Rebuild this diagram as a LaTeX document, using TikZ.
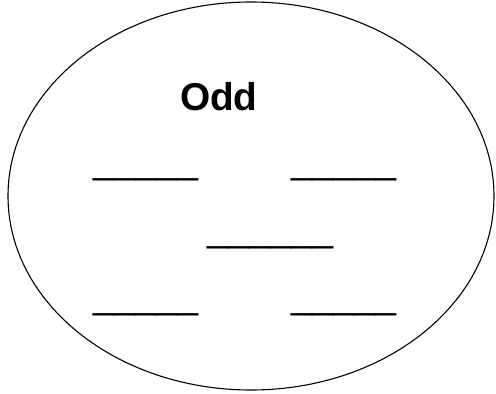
\documentclass[tikz,border=0pt]{standalone}
\usepackage{fontspec}
\setmainfont{Liberation Sans}
\begin{document}
\begin{tikzpicture}[x=1pt,y=-1pt,
  blank/.style={inner sep=0pt,outer sep=0pt,anchor=base west,font=\fontsize{37.8}{40}\selectfont},
  title/.style={inner sep=0pt,outer sep=0pt,anchor=base west,font=\fontsize{38.8}{42}\selectfont\bfseries}]
\useasboundingbox (0,0) rectangle (496,394);
\draw[line width=1.1pt] (251,196) ellipse [x radius=243, y radius=194];
\node[title] (odd) at (180,110.5) {Odd};
\node[blank] (b1) at (93,173) {\_\_\_\_\_};
\node[blank] (b2) at (291,173) {\_\_\_\_\_};
\node[blank] (b3) at (207,241) {\_\_\_\_\_\_};
\node[blank] (b4) at (93,308) {\_\_\_\_\_};
\node[blank] (b5) at (291,308) {\_\_\_\_\_};
\end{tikzpicture}
\end{document}
